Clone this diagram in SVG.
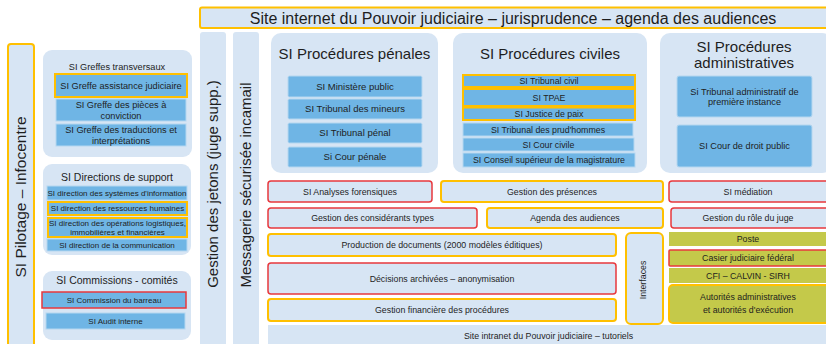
<svg xmlns="http://www.w3.org/2000/svg" width="826" height="344" viewBox="0 0 826 344">
<style>
text{font-family:"Liberation Sans",Arial,sans-serif;fill:#1e1e1e;text-anchor:middle}
.c{fill:#d7e5f4}
.b{fill:#6fb5e5;stroke:#b5d7f0;stroke-width:1}
.l{fill:#d7e5f4}
.o{fill:#c4c94a}
.y{stroke:#ffc000;stroke-width:2}
.r{stroke:#e8383d;stroke-width:1.5}
.t15{font-size:15px}
.t16{font-size:16px}
.t10{font-size:10.5px}
.t9{font-size:9.2px}
.t8{font-size:8px}
.t88{font-size:8.8px}
.t95{font-size:9.5px}
</style>
<rect width="826" height="344" fill="#ffffff"/>

<g id="top-bar">
<rect class="l y" x="200" y="7.5" width="640" height="20.5" rx="2"/>
<text class="t16" x="513" y="23.5">Site internet du Pouvoir judiciaire – jurisprudence – agenda des audiences</text>
</g>

<g id="pilotage">
<rect class="l y" x="8" y="44" width="26" height="310" rx="3"/>
<text class="t15" transform="translate(20,197) rotate(-90)" y="5.5" style="font-size:15.5px">SI Pilotage – Infocentre</text>
</g>

<g id="jetons">
<rect class="l" x="200" y="32" width="26" height="320" rx="3"/>
<text class="t15" transform="translate(213,184) rotate(-90)" y="5.3">Gestion des jetons (juge supp.)</text>
</g>

<g id="messagerie">
<rect class="l" x="233" y="32" width="26" height="320" rx="3"/>
<text class="t15" transform="translate(246,185) rotate(-90)" y="5.3">Messagerie sécurisée incamail</text>
</g>

<g id="greffes">
<rect class="c" x="43" y="50" width="149" height="107" rx="9"/>
<text class="t9" x="117" y="69.5">SI Greffes transversaux</text>
<g id="greffe-assistance">
<rect class="b y" x="55" y="74" width="132" height="23"/>
<text class="t9" x="121" y="88.8">SI Greffe assistance judiciaire</text>
</g>
<g id="greffe-pieces">
<rect class="b" x="56" y="99" width="130" height="22"/>
<text class="t9" x="121" y="108">SI Greffe des pièces à</text>
<text class="t9" x="121" y="118.5">conviction</text>
</g>
<g id="greffe-traductions">
<rect class="b" x="56" y="124" width="130" height="22"/>
<text class="t9" x="121" y="133">SI Greffe des traductions et</text>
<text class="t9" x="121" y="143.5">interprétations</text>
</g>
</g>

<g id="directions">
<rect class="c" x="43" y="164" width="148" height="91" rx="9"/>
<text class="t10" x="117" y="181">SI Directions de support</text>
<g id="dir-si">
<rect class="b" x="47" y="186" width="140" height="14"/>
<text class="t8" x="117" y="195.8">SI direction des systèmes d'information</text>
</g>
<g id="dir-rh">
<rect class="b y" x="48" y="202" width="139" height="13"/>
<text class="t8" x="117.5" y="211.3">SI direction des ressources humaines</text>
</g>
<g id="dir-ops">
<rect class="b y" x="48" y="218" width="139" height="19"/>
<text class="t8" x="117.5" y="226">SI direction des opérations logistiques,</text>
<text class="t8" x="117.5" y="234.5">immobilières et financières</text>
</g>
<g id="dir-com">
<rect class="b" x="47" y="239" width="140" height="12"/>
<text class="t8" x="117" y="247.8">SI direction de la communication</text>
</g>
</g>

<g id="commissions">
<rect class="c" x="43" y="271" width="148" height="69" rx="9"/>
<text class="t10" x="117" y="284">SI Commissions - comités</text>
<g id="com-barreau">
<rect class="b r" x="42" y="292" width="144" height="16"/>
<text class="t8" x="114" y="303">SI Commission du barreau</text>
</g>
<g id="com-audit">
<rect class="b" x="46" y="313" width="139" height="16"/>
<text class="t8" x="115.5" y="324">SI Audit interne</text>
</g>
</g>

<g id="penales">
<rect class="c" x="271" y="33" width="167" height="140" rx="10"/>
<text class="t15" x="354.5" y="58.5">SI Procédures pénales</text>
<g id="ministere"><rect class="b" x="288" y="76" width="134" height="21" rx="1.5"/><text class="t95" x="355" y="89.8">SI Ministère public</text></g>
<g id="mineurs"><rect class="b" x="288" y="99" width="134" height="20" rx="1.5"/><text class="t95" x="355" y="112.3">SI Tribunal des mineurs</text></g>
<g id="tribunal-penal"><rect class="b" x="288" y="123" width="134" height="20" rx="1.5"/><text class="t95" x="355" y="136.3">SI Tribunal pénal</text></g>
<g id="cour-penale"><rect class="b" x="288" y="147" width="134" height="20" rx="1.5"/><text class="t95" x="355" y="160.3">Si Cour pénale</text></g>
</g>

<g id="civiles">
<rect class="c" x="453" y="33" width="194" height="140" rx="10"/>
<text class="t15" x="550" y="58.5">SI Procédures civiles</text>
<g id="tribunal-civil"><rect class="b y" x="463" y="75" width="172" height="12"/><text class="t88" x="549" y="84">SI Tribunal civil</text></g>
<g id="tpae"><rect class="b y" x="463" y="89" width="172" height="17"/><text class="t88" x="549" y="100.6">SI TPAE</text></g>
<g id="justice-paix"><rect class="b y" x="463" y="107.5" width="172" height="12.5"/><text class="t88" x="549" y="116.8">SI Justice de paix</text></g>
<g id="prudhommes"><rect class="b" x="463" y="123" width="170" height="13"/><text class="t88" x="548" y="132.6">SI Tribunal des prud'hommes</text></g>
<g id="cour-civile"><rect class="b" x="463" y="138" width="171" height="13"/><text class="t88" x="548.5" y="147.6">SI Cour civile</text></g>
<g id="conseil"><rect class="b" x="463" y="153" width="172" height="14"/><text class="t88" x="549" y="163.1">SI Conseil supérieur de la magistrature</text></g>
</g>

<g id="administratives">
<rect class="c" x="660" y="33" width="172" height="140" rx="10"/>
<text class="t15" x="744" y="51.5">SI Procédures</text>
<text class="t15" x="744" y="67.5">administratives</text>
<g id="tribunal-admin"><rect class="b" x="677" y="76" width="135" height="41" rx="2"/><text class="t9" x="744.5" y="95">Si Tribunal administratif de</text><text class="t9" x="744.5" y="104.5">première instance</text></g>
<g id="cour-droit-public"><rect class="b" x="677" y="125" width="135" height="42" rx="2"/><text class="t9" x="744.5" y="149.2">SI Cour de droit public</text></g>
</g>

<g id="analyses"><rect class="l r" x="268" y="181" width="164" height="21" rx="3"/><text class="t88" x="350" y="194.6">SI Analyses forensiques</text></g>
<g id="presences"><rect class="l y" x="441" y="181" width="222" height="21" rx="3"/><text class="t88" x="552" y="194.6">Gestion des présences</text></g>
<g id="mediation"><rect class="l r" x="669" y="181" width="162" height="21" rx="3"/><text class="t88" x="748" y="194.6">SI médiation</text></g>
<g id="considerants"><rect class="l r" x="268" y="208" width="209" height="20" rx="3"/><text class="t88" x="372.5" y="221.1">Gestion des considérants types</text></g>
<g id="agenda"><rect class="l y" x="487" y="208" width="176" height="20" rx="3"/><text class="t88" x="575" y="221.1">Agenda des audiences</text></g>
<g id="role-juge"><rect class="l r" x="671" y="208" width="160" height="20" rx="3"/><text class="t88" x="748" y="221.1">Gestion du rôle du juge</text></g>
<g id="production"><rect class="l y" x="268" y="234" width="348" height="22" rx="3"/><text class="t88" x="442" y="248.1">Production de documents (2000 modèles éditiques)</text></g>
<g id="decisions"><rect class="l r" x="268" y="263" width="348" height="31" rx="3"/><text class="t88" x="442" y="281.6">Décisions archivées – anonymisation</text></g>
<g id="financiere"><rect class="l y" x="268" y="299" width="348" height="22" rx="3"/><text class="t88" x="442" y="313.1">Gestion financière des procédures</text></g>
<g id="interfaces"><rect class="l y" x="626" y="233" width="37" height="91" rx="5"/><text class="t88" transform="translate(643,280) rotate(-90)" y="3.2">Interfaces</text></g>
<g id="poste"><rect class="o" x="669" y="232" width="162" height="14"/><text class="t88" x="748" y="242.2">Poste</text></g>
<g id="casier"><rect class="o r" x="669" y="250" width="162" height="16" rx="1"/><text class="t88" x="748" y="261.2">Casier judiciaire fédéral</text></g>
<g id="cfi"><rect class="o" x="669" y="268" width="162" height="15"/><text class="t88" x="748" y="278.7">CFI – CALVIN - SIRH</text></g>
<g id="autorites"><rect class="o y" x="669" y="285" width="162" height="38" rx="4"/><text class="t88" x="748" y="300.3">Autorités administratives</text><text class="t88" x="748" y="313.3">et autorités d'exécution</text></g>
<g id="intranet"><rect class="l" x="268" y="325" width="564" height="25"/><text class="t88" x="548.5" y="339">Site intranet du Pouvoir judiciaire – tutoriels</text></g>

<g id="connectors"/>
</svg>
